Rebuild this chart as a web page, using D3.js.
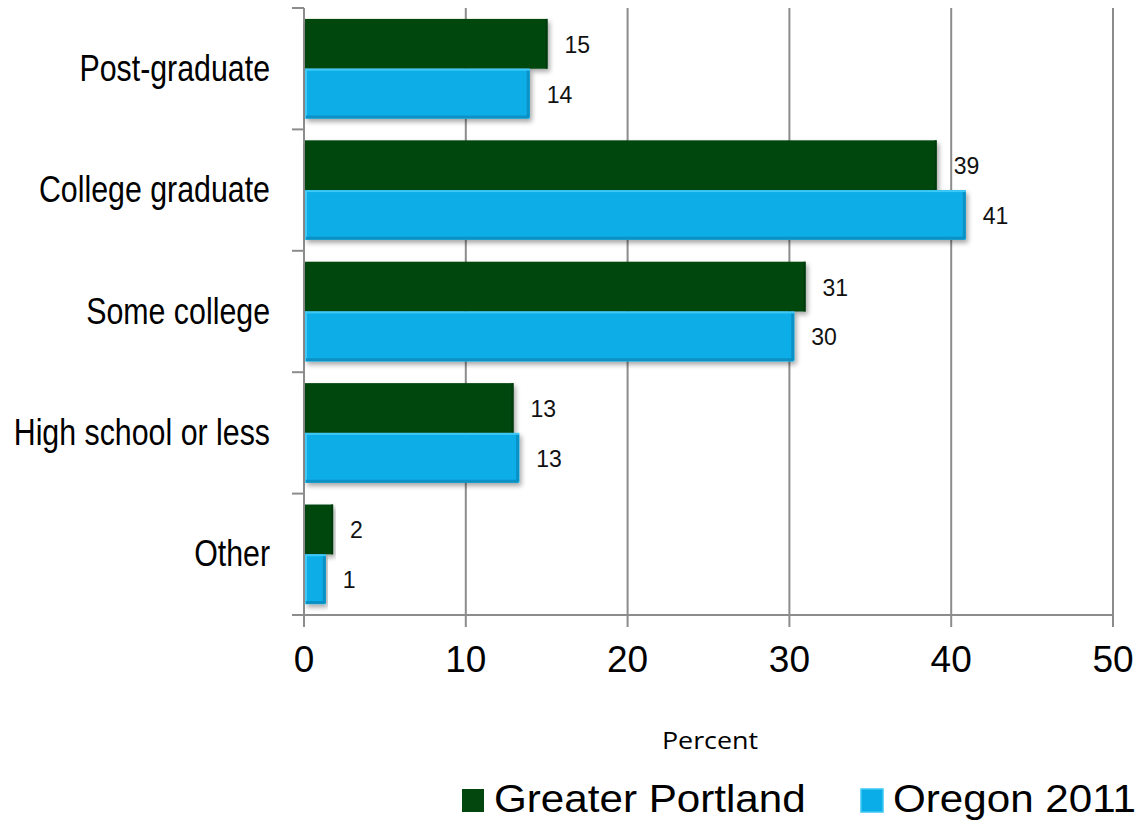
<!DOCTYPE html>
<html><head><meta charset="utf-8">
<script src="https://cdn.jsdelivr.net/npm/d3@7"></script>
<style>
body{margin:0;background:#fff;}
svg{display:block;}
</style></head>
<body>
<svg id="c" width="1141" height="822"></svg>
<script>
const categories = ["Post-graduate","College graduate","Some college","High school or less","Other"];
const seriesNames = ["Greater Portland","Oregon 2011"];
const portland = [15.05, 39.1, 31.0, 12.95, 1.8];
const oregon = [13.95, 40.9, 30.3, 13.3, 1.35];
const portlandLabels = ["15","39","31","13","2"];
const oregonLabels = ["14","41","30","13","1"];
const xTicks = [0,10,20,30,40,50];
const colors = ["#03470f","#0aade7"];

(function(){
const FONT = "Arial, 'Liberation Sans', sans-serif";
const svg = d3.select("#c");
const pL = 304, pR = 1113, pT = 8, pB = 615;
const x = d3.scaleLinear().domain([0,50]).range([pL,pR]);
const y = d3.scaleBand().domain(categories).range([pT,pB]).paddingInner(0.18).paddingOuter(0.09);
const ys = d3.scaleBand().domain(seriesNames).range([0,y.bandwidth()]);

const defs = svg.append("defs");
const f = defs.append("filter").attr("id","sh").attr("x","-5%").attr("y","-10%").attr("width","115%").attr("height","130%");
f.append("feGaussianBlur").attr("in","SourceAlpha").attr("stdDeviation",2.5);
f.append("feOffset").attr("dx",2).attr("dy",3).attr("result","b");
f.append("feComponentTransfer").append("feFuncA").attr("type","linear").attr("slope",0.35);
const m = f.append("feMerge"); m.append("feMergeNode"); m.append("feMergeNode").attr("in","SourceGraphic");

const gridColor = "#8c8c8c";
svg.append("g").selectAll("line").data(xTicks.slice(1)).join("line")
  .attr("x1",d=>x(d)).attr("x2",d=>x(d)).attr("y1",pT).attr("y2",pB+12)
  .attr("stroke",gridColor).attr("stroke-width",2);

const bounds = categories.map(c=>y(c)-y.step()*y.paddingInner()/2);
bounds.push(pB);
bounds[0]=pT;
svg.append("g").selectAll("line").data(bounds).join("line")
  .attr("x1",pL-12).attr("x2",pL).attr("y1",d=>d).attr("y2",d=>d)
  .attr("stroke",gridColor).attr("stroke-width",2);
svg.append("line").attr("x1",pL).attr("x2",pL).attr("y1",pT).attr("y2",pB+12).attr("stroke",gridColor).attr("stroke-width",2);
svg.append("line").attr("x1",pL-12).attr("x2",pR).attr("y1",pB).attr("y2",pB).attr("stroke",gridColor).attr("stroke-width",2);

const rows = categories.map((c,i)=>({c, vals:[
  {s:seriesNames[0], v:portland[i], l:portlandLabels[i], col:colors[0]},
  {s:seriesNames[1], v:oregon[i], l:oregonLabels[i], col:colors[1]}]}));
const g = svg.append("g");
rows.forEach(r=>{
  r.vals.forEach((d,k)=>{
    const y0 = y(r.c)+ys(d.s), h = ys.bandwidth(), w = x(d.v)-x(0);
    const gg = g.append("g").attr("filter","url(#sh)");
    gg.append("rect").attr("x",x(0)+1).attr("y",y0).attr("width",w-1).attr("height",h).attr("fill",d.col);
    if(k===1){
      gg.append("rect").attr("x",x(0)+2).attr("y",y0+1).attr("width",w-3).attr("height",h-2)
        .attr("fill","none").attr("stroke","#3cc8f5").attr("stroke-width",2);
      gg.append("line").attr("x1",x(d.v)-1.5).attr("x2",x(d.v)-1.5).attr("y1",y0+2).attr("y2",y0+h-1).attr("stroke","#0791c4").attr("stroke-width",3);
      gg.append("line").attr("x1",x(0)+2).attr("x2",x(d.v)-1).attr("y1",y0+h-1.5).attr("y2",y0+h-1.5).attr("stroke","#0791c4").attr("stroke-width",3);
    } else {
      gg.append("line").attr("x1",x(d.v)-1).attr("x2",x(d.v)-1).attr("y1",y0).attr("y2",y0+h).attr("stroke","#023a0b").attr("stroke-width",2);
    }
    svg.append("text").attr("x",x(d.v)+17).attr("y",y0+h/2+9)
      .attr("font-family",FONT).attr("font-size",23).attr("fill","#111").text(d.l);
  });
});

svg.append("g").selectAll("text").data(categories).join("text")
  .attr("transform",c=>`translate(270,${y(c)+y.bandwidth()/2+12}) scale(0.82,1)`)
  .attr("text-anchor","end").attr("font-family",FONT)
  .attr("font-size",37).attr("fill","#000").text(c=>c);

svg.append("g").selectAll("text").data(xTicks).join("text")
  .attr("x",d=>x(d)).attr("y",672).attr("text-anchor","middle")
  .attr("font-family",FONT).attr("font-size",37).attr("fill","#000").text(d=>d);

svg.append("text").attr("transform","translate(710,749) scale(1.12,1)").attr("text-anchor","middle")
  .attr("font-family","Open Sans, sans-serif").attr("font-size",24).attr("fill","#000").text("Percent");

const legX = [462, 861];
seriesNames.forEach((s,i)=>{
  svg.append("rect").attr("x",legX[i]).attr("y",789).attr("width",22).attr("height",23).attr("fill",colors[i])
    .attr("stroke", i===1?"#3cc8f5":"none").attr("stroke-width",1.5);
  svg.append("text").attr("transform",`translate(${legX[i]+32},812) scale(1.11,1)`)
    .attr("font-family",FONT).attr("font-size",38).attr("fill","#000").text(s);
});
})();
</script>
</body></html>
